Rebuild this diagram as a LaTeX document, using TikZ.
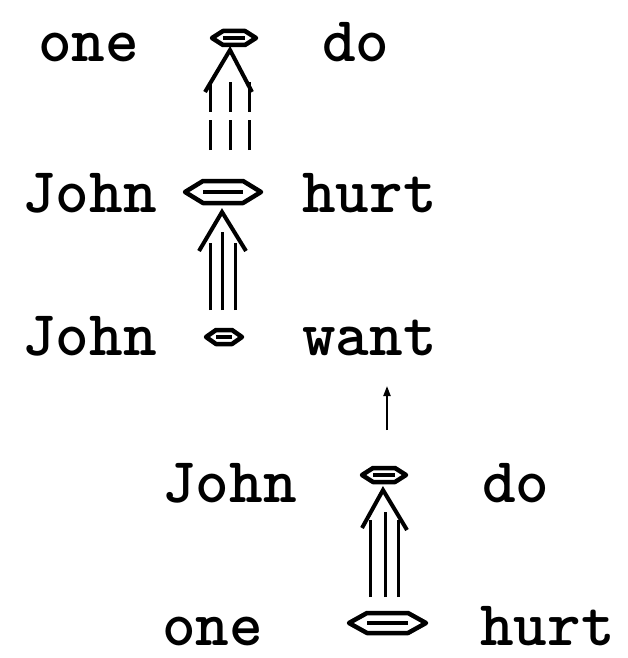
\documentclass[tikz,border=0pt]{standalone}
\usepackage{fontspec}
\usetikzlibrary{arrows.meta,calc}
\newcommand\twoway[4]{%
  \draw[twoline] (#1) -- ($(#1)+(#4,-#3)$) -- ($(#2)+(-#4,-#3)$) -- (#2)
    -- ($(#2)+(-#4,#3)$) -- ($(#1)+(#4,#3)$) -- cycle;
  \draw[twobar] ($(#1)+(#4,0)$) -- ($(#2)+(-#4,0)$);}
\begin{document}
\begin{tikzpicture}[x=1pt,y=-1pt,
  word/.style={font=\ttfamily\bfseries\fontsize{64}{68}\selectfont, anchor=base west, inner sep=0pt},
  twoline/.style={line width=4.5pt, line join=round},
  twobar/.style={line width=3.5pt},
  shaft/.style={line width=3pt},
  dshaft/.style={line width=3pt, dash pattern=on 30pt off 8pt},
  chev/.style={line width=4pt, line join=miter},
  single/.style={line width=2pt, -{Triangle[length=10pt,width=7pt]}}]
\useasboundingbox (0,0) rectangle (628,658);
% words
\node[word] (one1) at (38,62) {one};
\node[word] (do1) at (322,62) {do};
\node[word] (john2) at (22,212) {John};
\node[word] (hurt2) at (302,212) {hurt};
\node[word] (john3) at (22,355) {John};
\node[word] (want3) at (302,355) {want};
\node[word] (john4) at (162,502) {John};
\node[word] (do4) at (482,502) {do};
\node[word] (one5) at (162,645) {one};
\node[word] (hurt5) at (480,645) {hurt};
% two-way links
\coordinate (s1l) at (212,38); \coordinate (s1r) at (256,38);
\coordinate (s2l) at (185,192); \coordinate (s2r) at (261,192);
\coordinate (s3l) at (206,337); \coordinate (s3r) at (242,337);
\coordinate (s4l) at (362,475); \coordinate (s4r) at (406,475);
\coordinate (s5l) at (349,623); \coordinate (s5r) at (426,623);
\twoway{s1l}{s1r}{7}{11}
\twoway{s2l}{s2r}{11}{18}
\twoway{s3l}{s3r}{7}{10}
\twoway{s4l}{s4r}{7}{11}
\twoway{s5l}{s5r}{10}{18}
% triple arrow hurt-clause -> one do (dashed)
\coordinate (a1) at (230,50);
\draw[chev] (205,92) -- (a1) -- (252,92);
\draw[dshaft] (210,150) -- (210,82);
\draw[dshaft] (230,150) -- (230,78);
\draw[dshaft] (249,150) -- (249,82);
% triple arrow want-clause -> hurt-clause
\coordinate (a2) at (222,212);
\draw[chev] (199,251) -- (a2) -- (246,251);
\draw[shaft] (210,310) -- (210,243);
\draw[shaft] (222,310) -- (222,232);
\draw[shaft] (235,310) -- (235,243);
% triple arrow one hurt -> John do
\coordinate (a4) at (383,490);
\draw[chev] (362,528) -- (a4) -- (407,530);
\draw[shaft] (370,597) -- (370,520);
\draw[shaft] (385,597) -- (385,512);
\draw[shaft] (398,597) -- (398,520);
% single arrow to want
\coordinate (w0) at (387,430);
\coordinate (w1) at (387,386);
\draw[single] (w0) -- (w1);
\end{tikzpicture}
\end{document}
